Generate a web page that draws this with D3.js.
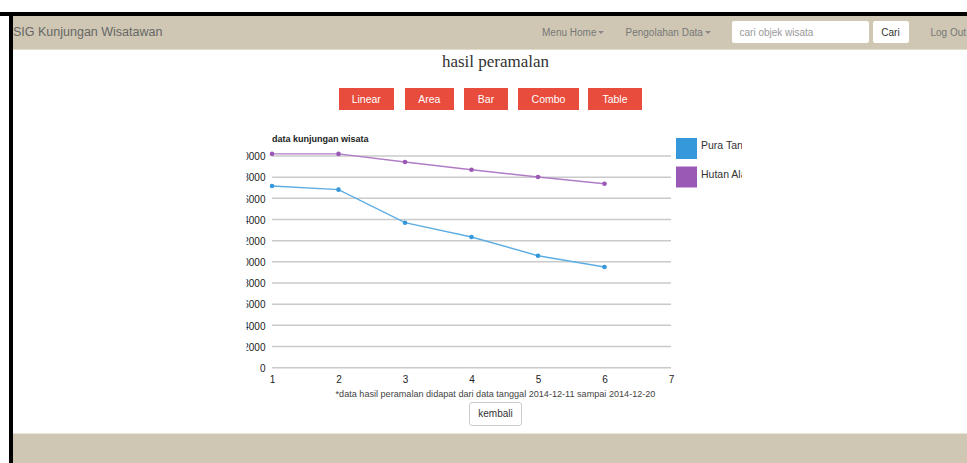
<!DOCTYPE html>
<html>
<head>
<meta charset="utf-8">
<script src="https://cdn.jsdelivr.net/npm/d3@7/dist/d3.min.js"></script>
<style>
  html, body { margin: 0; padding: 0; background: #fff; }
  body { width: 967px; height: 463px; overflow: hidden; position: relative; font-family: "Liberation Sans", Arial, sans-serif; }
  .abs { position: absolute; }
  #topline { left: 0; top: 12px; width: 967px; height: 3.5px; background: #000; }
  #leftline { left: 9px; top: 12px; width: 3.5px; height: 451px; background: #000; }
  #navbar { left: 12.5px; top: 15.5px; width: 955px; height: 33.5px; background: #cfc7b3; border-bottom: 1px solid #e2dccd; }
  #footer { left: 12.5px; top: 433px; width: 955px; height: 30px; background: #cfc7b3; border-top: 1px solid #e8e4da; }
  .nav { color: #777; font-size: 10px; white-space: nowrap; }
  .caret { display: inline-block; width: 0; height: 0; margin-left: 2px; vertical-align: middle; border-top: 3px solid #888; border-left: 3px solid transparent; border-right: 3px solid transparent; }
  #brand { left: 13px; top: 24.5px; font-size: 12.5px; color: #666; }
  #search { left: 731.5px; top: 20.5px; width: 137px; height: 22.5px; background: #fff; border-radius: 2px; box-sizing: border-box; font-size: 10px; color: #999; padding: 6px 0 0 8px; }
  #cari { left: 872.5px; top: 20.5px; width: 36px; height: 22.5px; background: #fff; border-radius: 2px; box-sizing: border-box; font-size: 10px; color: #333; text-align: center; padding-top: 6px; }
  #title { left: 0; width: 991px; top: 51.5px; text-align: center; font-family: "Liberation Serif", "Times New Roman", serif; font-size: 17px; color: #333; }
  .btn { top: 88px; height: 22px; background: #e74c3c; color: #fff; font-size: 10.5px; text-align: center; line-height: 23px; }
  #note { left: 0; width: 991px; top: 389px; text-align: center; font-size: 9.1px; color: #444; }
  #kembali { left: 469px; top: 402px; width: 53px; height: 24px; box-sizing: border-box; border: 1px solid #ccc; border-radius: 3px; background: #fff; font-size: 10px; color: #333; text-align: center; line-height: 22px; }
  svg { position: absolute; left: 0; top: 0; }
</style>
</head>
<body>
<div id="topline" class="abs"></div>
<div id="navbar" class="abs"></div>
<div id="footer" class="abs"></div>
<div id="leftline" class="abs"></div>
<div id="brand" class="abs">SIG Kunjungan Wisatawan</div>
<div class="abs nav" style="left:542px;top:26.5px;">Menu Home<span class="caret"></span></div>
<div class="abs nav" style="left:625.5px;top:26.5px;">Pengolahan Data<span class="caret"></span></div>
<div id="search" class="abs">cari objek wisata</div>
<div id="cari" class="abs">Cari</div>
<div class="abs nav" style="left:930.5px;top:26.5px;">Log Out</div>
<div id="title" class="abs">hasil peramalan</div>
<div id="note" class="abs">*data hasil peramalan didapat dari data tanggal 2014-12-11 sampai 2014-12-20</div>
<div id="kembali" class="abs">kembali</div>
<svg id="chart" width="967" height="463"></svg>
<script>
// ---- data ----
const buttons = ["Linear", "Area", "Bar", "Combo", "Table"];
const periods = [1, 2, 3, 4, 5, 6];
const xTicks = [1, 2, 3, 4, 5, 6, 7];
const yTicks = [0, 2000, 4000, 6000, 8000, 10000, 12000, 14000, 16000, 18000, 20000];
const seriesNames = ["Pura Tanah Lot", "Hutan Alas Kedaton"];
const puraTanahLot = [17170, 16820, 13700, 12350, 10580, 9510];
const hutanAlasKedaton = [20200, 20200, 19430, 18700, 18020, 17380];
const seriesColors = ["#3498db", "#9b59b6"];
const lineColors = ["#5dade2", "#b07cc6"];

// ---- buttons (UI) ----
const btnBoxes = [[338.5, 55.5], [404.5, 49.5], [464, 44], [518, 61], [588, 54]];
buttons.forEach((b, i) => {
  d3.select("body").append("div").attr("class", "abs btn")
    .style("left", btnBoxes[i][0] + "px").style("width", btnBoxes[i][1] + "px").text(b);
});

// ---- chart ----
const svg = d3.select("#chart");
const x = d3.scaleLinear().domain([1, 7]).range([272, 671]);
const y = d3.scaleLinear().domain([0, 20000]).range([367.7, 156]);

const defs = svg.append("defs");
defs.append("clipPath").attr("id", "chartClip")
  .append("rect").attr("x", 246.5).attr("y", 120).attr("width", 495.5).attr("height", 280);

const g = svg.append("g").attr("clip-path", "url(#chartClip)");

g.append("text").attr("x", 272).attr("y", 141.5)
  .attr("font-size", "9px").attr("font-weight", "bold").attr("fill", "#222")
  .text("data kunjungan wisata");

// grid lines
g.append("g").selectAll("line").data(yTicks).join("line")
  .attr("x1", x(1)).attr("x2", x(7))
  .attr("y1", d => y(d)).attr("y2", d => y(d))
  .attr("stroke", "#cacaca").attr("stroke-width", 1.5);

// y axis labels
const yAxis = d3.axisLeft(y).tickValues(yTicks).tickSize(0).tickPadding(0).tickFormat(d3.format("d"));
const ya = g.append("g").attr("transform", "translate(265.5,0.5)").call(yAxis);
ya.select(".domain").remove();
ya.selectAll("text").attr("font-size", "10px").attr("fill", "#222")
  .attr("font-family", "Liberation Sans, Arial, sans-serif");

// x axis labels
const xAxis = d3.axisBottom(x).tickValues(xTicks).tickSize(0).tickPadding(0).tickFormat(d3.format("d"));
const xa = g.append("g").attr("transform", "translate(0,376)").call(xAxis);
xa.select(".domain").remove();
xa.selectAll("text").attr("font-size", "10px").attr("fill", "#222")
  .attr("font-family", "Liberation Sans, Arial, sans-serif");

// series
const allSeries = [puraTanahLot, hutanAlasKedaton];
const line = d3.line().x((d, i) => x(periods[i])).y(d => y(d));
allSeries.forEach((s, k) => {
  g.append("path").datum(s).attr("d", line)
    .attr("fill", "none").attr("stroke", lineColors[k]).attr("stroke-width", 1.4);
  g.append("g").selectAll("circle").data(s).join("circle")
    .attr("cx", (d, i) => x(periods[i])).attr("cy", d => y(d)).attr("r", 2.3)
    .attr("fill", seriesColors[k]);
});

// legend
const leg = g.append("g").attr("transform", "translate(676,138)");
seriesNames.forEach((n, k) => {
  const row = leg.append("g").attr("transform", `translate(0,${k * 28.5})`);
  row.append("rect").attr("width", 21).attr("height", 21).attr("fill", seriesColors[k]);
  row.append("text").attr("x", 25).attr("y", 11).attr("font-size", "10.5px").attr("fill", "#333")
    .text(n);
});
</script>
</body>
</html>
